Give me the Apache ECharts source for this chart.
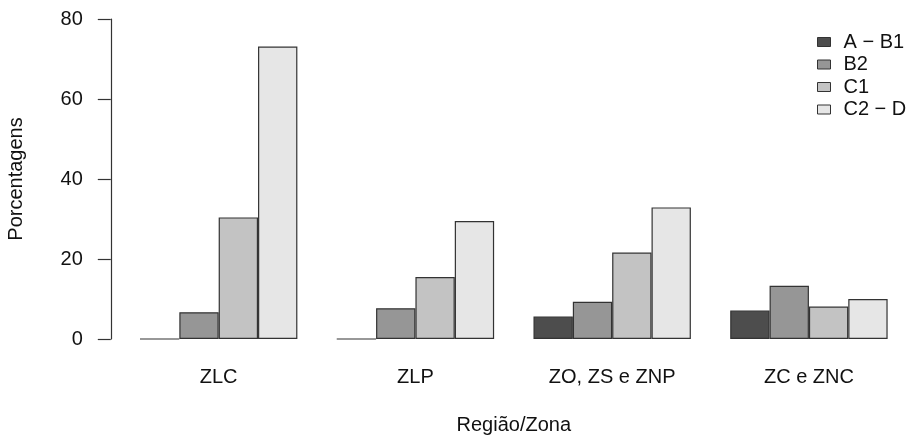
<!DOCTYPE html>
<html>
<head>
<meta charset="utf-8">
<script src="https://cdn.jsdelivr.net/npm/echarts@6/dist/echarts.min.js"></script>
<style>html,body{margin:0;padding:0;background:#fff}#c{width:909px;height:436px}</style>
</head>
<body>
<div id="c"></div>
<script>
const categories = ['ZLC', 'ZLP', 'ZO, ZS e ZNP', 'ZC e ZNC'];
const seriesNames = ['A \u2212 B1', 'B2', 'C1', 'C2 \u2212 D'];
const valuesAB1 = [0, 0, 5.6, 7.1];
const valuesB2 = [6.7, 7.7, 9.3, 13.3];
const valuesC1 = [30.4, 15.5, 21.6, 8.1];
const valuesC2D = [73.1, 29.5, 32.9, 10.0];
const yTicks = [0, 20, 40, 60, 80];

const colors = ['#4d4d4d', '#969696', '#c3c3c3', '#e6e6e6'];
const allValues = [valuesAB1, valuesB2, valuesC1, valuesC2D];
const font = 'Liberation Sans, Arial, Helvetica, sans-serif';

const chart = echarts.init(document.getElementById('c'));
chart.setOption({
  animation: false,
  backgroundColor: '#ffffff',
  textStyle: { fontFamily: font },
  grid: { left: 120.3, right: 1.7, top: 19, bottom: 97, containLabel: false, outerBoundsMode: 'none' },
  legend: {
    data: seriesNames,
    orient: 'vertical',
    left: 812, top: 27,
    itemWidth: 13, itemHeight: 9,
    itemGap: 2.5,
    icon: 'rect',
    textStyle: { fontSize: 20, color: '#111', fontFamily: font, lineHeight: 19, padding: [0,0,0,8] },
    itemStyle: { borderColor: '#333', borderWidth: 1 }
  },
  xAxis: {
    type: 'category',
    data: categories,
    axisLine: { show: false },
    axisTick: { show: false },
    axisLabel: { margin: 28, fontSize: 20, color: '#111', fontFamily: font },
    name: 'Região/Zona',
    nameLocation: 'middle',
    nameGap: 76,
    nameTextStyle: { fontSize: 20, color: '#111', fontFamily: font }
  },
  yAxis: {
    type: 'value',
    min: 0, max: 80, interval: 20,
    offset: 9.5,
    splitLine: { show: false },
    axisLine: { show: true, lineStyle: { color: '#333', width: 1.2 } },
    axisTick: { show: true, length: 13, lineStyle: { color: '#333', width: 1.2 } },
    axisLabel: {
      margin: 28, fontSize: 20, color: '#111', fontFamily: font,
      formatter: v => yTicks.includes(v) ? String(v) : ''
    },
    name: 'Porcentagens',
    nameLocation: 'middle',
    nameGap: 84,
    nameTextStyle: { fontSize: 20, color: '#111', fontFamily: font }
  },
  series: seriesNames.map((n, i) => ({
    name: n,
    type: 'bar',
    data: allValues[i],
    barGap: '0%',
    barCategoryGap: '20%',
    itemStyle: { color: colors[i], borderColor: '#333', borderWidth: 1.2 }
  }))
});
</script>
</body>
</html>
